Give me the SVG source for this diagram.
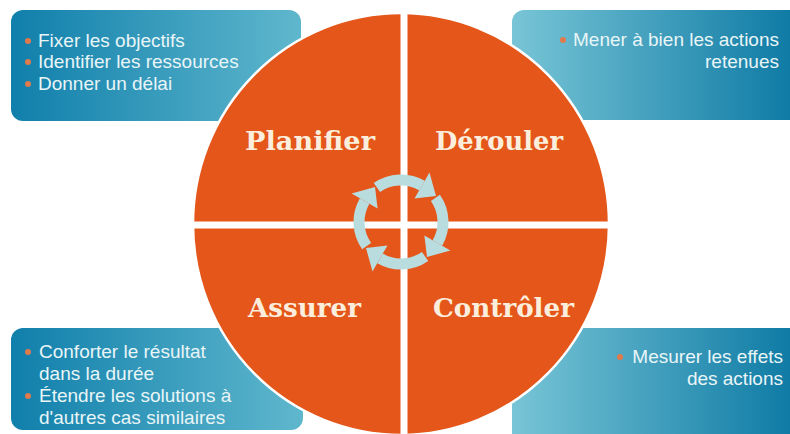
<svg xmlns="http://www.w3.org/2000/svg" width="790" height="434" viewBox="0 0 790 434">
  <style>
    .box-text { font-family: "Liberation Sans", "DejaVu Sans", sans-serif; font-size: 19px; fill: #e9f5f7; }
    .end { text-anchor: end; }
    .bullet { fill: #e07a4c; }
    .label { font-family: "DejaVu Serif", "Liberation Serif", serif; font-weight: bold; font-size: 26px; fill: #fbeedd; }
    .cycle { fill: none; stroke: #b9dcdf; stroke-width: 11; }
    .cycle-head { fill: #b9dcdf; }
  </style>
  <defs>
    <linearGradient id="gDarkLeft" x1="0" y1="0" x2="1" y2="0">
      <stop offset="0" stop-color="#107fab"/>
      <stop offset="1" stop-color="#5fb7cd"/>
    </linearGradient>
    <linearGradient id="gLightLeft" x1="0" y1="0" x2="1" y2="0">
      <stop offset="0" stop-color="#78c5d6"/>
      <stop offset="1" stop-color="#0b78a3"/>
    </linearGradient>
    <g id="cycleArrow">
      <path class="cycle" d="M -24.09 -34.40 A 42 42 0 0 1 21 -36.37"/>
      <polygon class="cycle-head" points="13.5,-23.4 28.5,-49.4 35,-26"/>
    </g>
  </defs>
  <rect width="790" height="434" fill="#ffffff"/>

  <g id="box-planifier">
    <rect x="11" y="10" width="290" height="111" rx="12" fill="url(#gDarkLeft)"/>
    <circle class="bullet" cx="28" cy="41" r="3"/>
    <text class="box-text" x="38" y="47">Fixer les objectifs</text>
    <circle class="bullet" cx="28" cy="62" r="3"/>
    <text class="box-text" x="38" y="68">Identifier les ressources</text>
    <circle class="bullet" cx="28" cy="84" r="3"/>
    <text class="box-text" x="38" y="90">Donner un délai</text>
  </g>

  <g id="box-derouler">
    <rect x="512" y="10" width="290" height="110" rx="12" fill="url(#gLightLeft)"/>
    <circle class="bullet" cx="563" cy="40" r="3"/>
    <text class="box-text end" x="779" y="46">Mener à bien les actions</text>
    <text class="box-text end" x="779" y="68">retenues</text>
  </g>

  <g id="box-assurer">
    <rect x="11" y="328" width="292" height="102" rx="12" fill="url(#gDarkLeft)"/>
    <circle class="bullet" cx="28" cy="352" r="3"/>
    <text class="box-text" x="39" y="358">Conforter le résultat</text>
    <text class="box-text" x="39" y="380">dans la durée</text>
    <circle class="bullet" cx="28" cy="396" r="3"/>
    <text class="box-text" x="39" y="402">Étendre les solutions à</text>
    <text class="box-text" x="39" y="424">d'autres cas similaires</text>
  </g>

  <g id="box-controler">
    <rect x="512" y="328" width="290" height="120" rx="12" fill="url(#gLightLeft)"/>
    <circle class="bullet" cx="620" cy="357" r="3"/>
    <text class="box-text end" x="783" y="363">Mesurer les effets</text>
    <text class="box-text end" x="783" y="385">des actions</text>
  </g>

  <g id="wheel">
    <ellipse cx="401" cy="224" rx="208" ry="211" fill="#e4561a" stroke="#ffffff" stroke-width="2.5"/>
    <rect x="400.5" y="10" width="7" height="426" fill="#ffffff"/>
    <rect x="190" y="221.5" width="424" height="7" fill="#ffffff"/>
  </g>

  <g id="node-planifier">
    <text class="label" x="245" y="150" textLength="130" lengthAdjust="spacingAndGlyphs">Planifier</text>
  </g>
  <g id="node-derouler">
    <text class="label" x="435" y="150" textLength="128" lengthAdjust="spacingAndGlyphs">Dérouler</text>
  </g>
  <g id="node-assurer">
    <text class="label" x="248" y="317" textLength="113" lengthAdjust="spacingAndGlyphs">Assurer</text>
  </g>
  <g id="node-controler">
    <text class="label" x="433" y="317" textLength="141" lengthAdjust="spacingAndGlyphs">Contrôler</text>
  </g>

  <g id="connectors" transform="translate(401 222)">
    <use href="#cycleArrow"/>
    <use href="#cycleArrow" transform="rotate(90)"/>
    <use href="#cycleArrow" transform="rotate(180)"/>
    <use href="#cycleArrow" transform="rotate(270)"/>
  </g>
</svg>
